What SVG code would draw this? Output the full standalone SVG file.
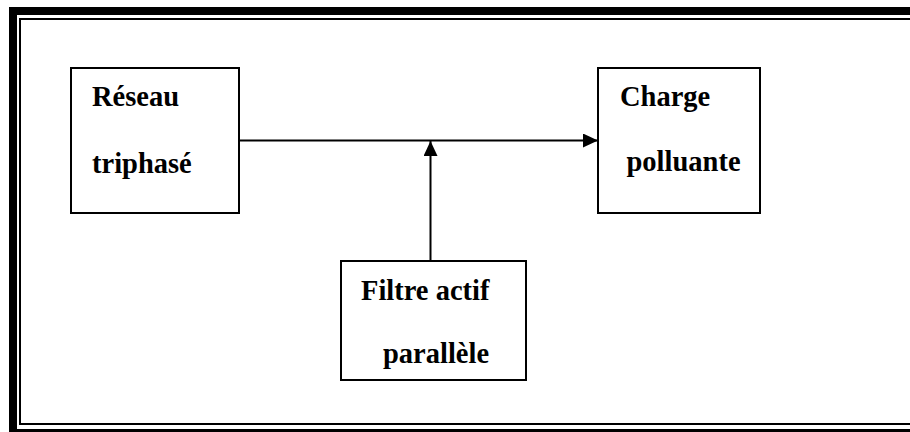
<svg xmlns="http://www.w3.org/2000/svg" width="910" height="432" viewBox="0 0 910 432">
  <style>
    .box { fill: #fff; stroke: #000; stroke-width: 2; }
    .lbl { font-family: "Liberation Serif", "Times New Roman", serif; font-weight: bold; font-size: 28.5px; fill: #000; }
    .wire { stroke: #000; stroke-width: 2; fill: none; }
  </style>
  <defs>
    <marker id="arrow" viewBox="0 0 15 14" refX="15" refY="7" markerWidth="15" markerHeight="14" markerUnits="userSpaceOnUse" orient="auto">
      <path d="M0,0 L15,7 L0,14 Z" fill="#000"/>
    </marker>
  </defs>
  <rect width="910" height="432" fill="#fff"/>

  <!-- page frame: thick outer rule, thin inner rule -->
  <g id="frame">
    <rect x="13" y="11" width="920" height="422" fill="none" stroke="#000" stroke-width="8"/>
    <rect x="20" y="19" width="910" height="405" fill="none" stroke="#000" stroke-width="2"/>
  </g>

  <g id="connectors">
    <line class="wire" x1="239" y1="140.5" x2="598" y2="140.5" marker-end="url(#arrow)"/>
    <line class="wire" x1="430.5" y1="261" x2="430.5" y2="141" marker-end="url(#arrow)"/>
  </g>

  <g id="reseau">
    <rect class="box" x="71" y="68" width="168" height="145"/>
    <text class="lbl" x="92" y="106">Réseau</text>
    <text class="lbl" x="92" y="172.5">triphasé</text>
  </g>

  <g id="charge">
    <rect class="box" x="598" y="68" width="162" height="145"/>
    <text class="lbl" x="620" y="106">Charge</text>
    <text class="lbl" x="626.5" y="170.5">polluante</text>
  </g>

  <g id="filtre">
    <rect class="box" x="341" y="261" width="185" height="119"/>
    <text class="lbl" x="361" y="299.5">Filtre actif</text>
    <text class="lbl" x="383" y="362.5">parallèle</text>
  </g>
</svg>
